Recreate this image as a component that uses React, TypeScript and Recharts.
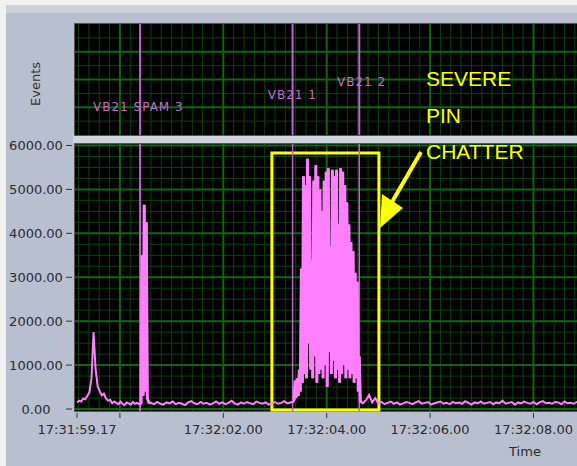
import React from 'react';
import {
  LineChart,
  Line,
  XAxis,
  YAxis,
  ReferenceLine,
  ReferenceArea,
  ReferenceDot,
} from 'recharts';

// time axis, seconds past 17:31:00
const tMin = 59.131;
const tMax = 69.093;
const xTicks = [59.17, 60, 62, 64, 66, 68];
const xTickLabels = ['17:31:59.17', '', '17:32:02.00', '17:32:04.00', '17:32:06.00', '17:32:08.00'];

const yMin = -45;
const yMax = 6034;
const yTicks = [0, 1000, 2000, 3000, 4000, 5000, 6000];

// signal in pieces (start time, sample step, values)
const leadStart = 59.17;
const leadStep = 0.04;
const leadValues = [150, 190, 170, 240, 220, 300, 380, 700, 1750, 900, 520, 400, 310, 350, 240, 190, 210, 130, 170, 140, 110, 170, 120, 90, 150, 130, 100, 160, 120, 140, 110];

const spikeStart = 60.41;
const spikeStep = 0.02;
const spikeValues = [120, 3500, 300, 4650, 400, 4250, 250, 180, 130];

const midStart = 60.6;
const midStep = 0.06;
const midValues = [
  140, 110, 160, 120, 100, 150, 130, 170, 110, 140,
  120, 90, 150, 180, 130, 110, 160, 120, 140, 100,
  130, 170, 120, 150, 110, 140, 190, 130, 100, 150,
  120, 160, 130, 110, 170, 140, 120, 150, 100, 130,
  160, 120, 140, 180, 130, 150, 170,
];

const chatterStart = 63.37;
const chatterStep = 0.02;
const chatterValues = [
  200, 650, 250, 700, 300, 900, 400, 3200, 600, 5300,
  800, 5100, 700, 5700, 1500, 5300, 900, 3400, 700, 5200,
  1200, 5550, 600, 5300, 800, 5000, 900, 4500, 700, 5200,
  1000, 5400, 500, 5480, 1300, 3700, 800, 5450, 1100, 5300,
  700, 5450, 900, 4200, 600, 5480, 800, 5400, 1000, 5100,
  700, 4700, 900, 4200, 700, 3800, 800, 3600, 600, 3100,
  700, 2900, 400, 1200, 200, 150,
];

const tailStart = 64.7;
const tailStep = 0.06;
const tailValues = [
  130, 200, 320, 150, 250, 120, 160, 110, 140, 170,
  120, 150, 100, 130, 160, 140, 110, 150, 180, 120,
  140, 160, 100, 130, 150, 170, 120, 140, 110, 160,
  130, 150, 120, 180, 140, 100, 150, 130, 170, 120,
  140, 160, 110, 150, 130, 190, 120, 140, 160, 100,
  150, 130, 170, 140, 120, 160, 110, 150, 180, 130,
  140, 120, 160, 150, 110, 170, 130, 140, 120, 160,
  150, 130, 170, 140,
];

const toPoints = (start: number, step: number, values: number[]) =>
  values.map((v, i) => ({ t: Number((start + i * step).toFixed(3)), v }));

const spike = toPoints(spikeStart, spikeStep, spikeValues);
const chatter = toPoints(chatterStart, chatterStep, chatterValues);
const signal = [
  ...toPoints(leadStart, leadStep, leadValues),
  ...spike,
  ...toPoints(midStart, midStep, midValues),
  ...chatter,
  ...toPoints(tailStart, tailStep, tailValues),
];

// event markers
const eventNames = ['VB21 SPAM 3', 'VB21 1', 'VB21 2'];
const eventTimes = [60.39, 63.34, 64.63];
const eventLabelTimes = [59.48, 62.86, 64.2];
const eventLabelLevels = [1.73, 2.6, 3.55];

// highlighted box
const boxT = [62.94, 65.01];
const boxV = [-20, 5830];

// grid
const gridMinorT: number[] = [];
for (let s = 59.2; s < tMax; s += 0.2) gridMinorT.push(Number(s.toFixed(2)));
const gridMajorT = [60, 62, 64, 66, 68];
const gridMinorV: number[] = [];
for (let v = 250; v < 6000; v += 250) gridMinorV.push(v);
const gridMajorV = [0, 1000, 2000, 3000, 4000, 5000, 6000];
const evMinor = [1, 2, 3, 4, 5, 6, 7];
const evMajor = [2, 4, 6];

const MINOR = '#0b420b';
const MAJOR = '#116411';
const TRACE = '#ff80ff';
const EVENT = '#b868c8';
const FONT = 'DejaVu Sans';

const abs: React.CSSProperties = { position: 'absolute', left: 0, top: 0 };

const YTick = (props: any) => {
  const { x, y, payload } = props;
  return (
    <g>
      <line x1={x - 9} x2={x - 3} y1={y} y2={y} stroke="#333" />
      <text x={x - 39} y={y} dy={4.5} textAnchor="middle" fontSize={13} fill="#2b2b2b" fontFamily={FONT}>
        {Number(payload.value).toFixed(2)}
      </text>
    </g>
  );
};

const XTick = (props: any) => {
  const { x, y, index } = props;
  return (
    <g>
      <line x1={x} x2={x} y1={y + 2} y2={y + 7} stroke="#333" />
      <text x={x} y={y + 23} textAnchor="middle" fontSize={13} fill="#2b2b2b" fontFamily={FONT}>
        {xTickLabels[index]}
      </text>
    </g>
  );
};

function GridChart({ height, margin, yDomain, minorY, majorY }: any) {
  return (
    <LineChart width={600} height={height} data={signal} margin={margin}>
      <XAxis dataKey="t" type="number" domain={[tMin, tMax]} allowDataOverflow hide />
      <YAxis type="number" domain={yDomain} allowDataOverflow hide />
      {gridMinorT.map((t) => (
        <ReferenceLine key={'nt' + t} x={t} stroke={MINOR} strokeWidth={1} />
      ))}
      {minorY.map((v: number) => (
        <ReferenceLine key={'nv' + v} y={v} stroke={MINOR} strokeWidth={1} />
      ))}
      {gridMajorT.map((t) => (
        <ReferenceLine key={'mt' + t} x={t} stroke={MAJOR} strokeWidth={2} />
      ))}
      {majorY.map((v: number) => (
        <ReferenceLine key={'mv' + v} y={v} stroke={MAJOR} strokeWidth={2} />
      ))}
    </LineChart>
  );
}

const plotBox = (top: number, height: number): React.CSSProperties => ({
  position: 'absolute',
  left: 74,
  top,
  width: 520,
  height,
  background: '#000',
  border: '1px solid #555',
  boxSizing: 'border-box',
});

export default function App() {
  const evMargin = { top: 24, right: 10, bottom: 5, left: 75 };
  const mainGridMargin = { top: 144, right: 10, bottom: 55, left: 75 };
  return (
    <div style={{ ...abs, width: 577, height: 466, overflow: 'hidden', background: '#f2f2f2' }}>
      <div style={{ position: 'absolute', left: 6, top: 5, right: 0, bottom: 0, background: '#b8bfcf' }} />
      <div style={{ position: 'absolute', left: 6, top: 5, right: 0, height: 8, background: '#cdd1da' }} />
      <div style={{ position: 'absolute', left: 73, top: 134, right: 0, height: 10, background: '#d0d4dd' }} />
      <div style={plotBox(23, 113)} />
      <div style={plotBox(143, 269)} />

      <div style={abs}>
        <GridChart height={140} margin={evMargin} yDomain={[0, 8]} minorY={evMinor} majorY={evMajor} />
      </div>
      <div style={abs}>
        <GridChart height={466} margin={mainGridMargin} yDomain={[yMin, yMax]} minorY={gridMinorV} majorY={gridMajorV} />
      </div>

      {/* events strip */}
      <div style={abs}>
        <LineChart width={600} height={140} data={signal} margin={evMargin}>
          <XAxis dataKey="t" type="number" domain={[tMin, tMax]} allowDataOverflow hide />
          <YAxis type="number" domain={[0, 8]} allowDataOverflow hide />
          {eventTimes.map((t, i) => (
            <ReferenceLine key={'e' + i} x={t} stroke={EVENT} strokeWidth={2} />
          ))}
          {eventNames.map((name, i) => (
            <ReferenceDot
              key={'l' + i}
              x={eventLabelTimes[i]}
              y={eventLabelLevels[i]}
              r={0}
              ifOverflow="visible"
              shape={(p: any) => (
                <text x={p.cx} y={p.cy} fontSize={12} letterSpacing={1} fill="#c070c8" fontFamily={FONT}>
                  {name}
                </text>
              )}
            />
          ))}
        </LineChart>
      </div>

      {/* main trace */}
      <div style={abs}>
        <LineChart width={600} height={466} data={signal} margin={{ top: 144, right: 10, bottom: 0, left: 0 }}>
          <XAxis
            dataKey="t"
            type="number"
            domain={[tMin, tMax]}
            ticks={xTicks}
            interval={0}
            allowDataOverflow
            height={55}
            axisLine={false}
            tickLine={false}
            tickSize={0}
            tickMargin={0}
            tick={<XTick />}
          />
          <YAxis
            type="number"
            domain={[yMin, yMax]}
            ticks={yTicks}
            interval={0}
            allowDataOverflow
            width={75}
            axisLine={false}
            tickLine={false}
            tickSize={0}
            tickMargin={0}
            tick={<YTick />}
          />
          {eventTimes.map((t, i) => (
            <ReferenceLine key={'m' + i} x={t} stroke={EVENT} strokeWidth={i === 0 ? 2 : 1.5} />
          ))}
          <Line
            type="linear"
            dataKey="v"
            stroke={TRACE}
            strokeWidth={2}
            dot={false}
            isAnimationActive={false}
          />
          <Line
            data={spike}
            type="linear"
            dataKey="v"
            stroke={TRACE}
            strokeWidth={3}
            dot={false}
            isAnimationActive={false}
          />
          <Line
            data={chatter}
            type="linear"
            dataKey="v"
            stroke={TRACE}
            strokeWidth={3}
            dot={false}
            isAnimationActive={false}
          />
          <ReferenceArea
            x1={boxT[0]}
            x2={boxT[1]}
            y1={boxV[0]}
            y2={boxV[1]}
            fill="none"
            fillOpacity={0}
            stroke="#ffff00"
            strokeWidth={3}
          />
        </LineChart>
      </div>

      <svg width={577} height={466} style={{ ...abs, pointerEvents: 'none' }}>
        <text x={35} y={84} transform="rotate(-90 35 84)" textAnchor="middle" dy={4.5} fontSize={13} fill="#333" fontFamily={FONT}>
          Events
        </text>
        <text x={525} y={456} textAnchor="middle" fontSize={13} fill="#2b2b2b" fontFamily={FONT}>
          Time
        </text>
        <g fill="#ffff00" fontFamily="Liberation Sans" fontSize={21}>
          <text x={426} y={86}>SEVERE</text>
          <text x={426} y={123}>PIN</text>
          <text x={426} y={159}>CHATTER</text>
        </g>
        <line x1={421} y1={152} x2={392} y2={202} stroke="#ffff00" strokeWidth={4} />
        <polygon points="380,228 403,208 382,194" fill="#ffff00" />
      </svg>
    </div>
  );
}
